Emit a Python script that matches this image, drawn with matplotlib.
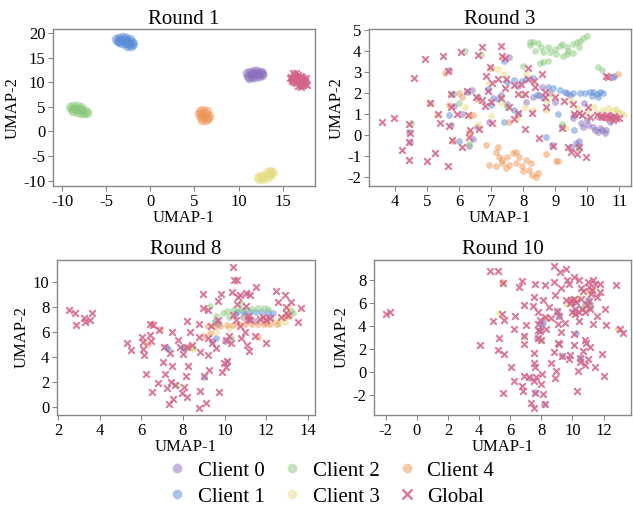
import matplotlib
matplotlib.use('Agg')
import matplotlib.pyplot as plt
from matplotlib.ticker import MultipleLocator
from matplotlib.lines import Line2D

plt.rcParams['font.family'] = 'serif'
plt.rcParams['font.serif'] = ['Liberation Serif', 'DejaVu Serif']
plt.rcParams['axes.unicode_minus'] = False

labels = ['Client 0', 'Client 1', 'Client 2', 'Client 3', 'Client 4']
colors = ['#8a6fbb', '#5a8bd6', '#88c97a', '#e6dc82', '#ee9455']
global_color = '#d2648a'

# ---- Round 1 (tight blobs per client, global far right) ----
r1_c0 = [(10.9, 11.9), (11.3, 12.2), (11.7, 12.4), (12.1, 12.4), (12.5, 12.2), (11.1, 11.4),
         (11.5, 11.7), (11.9, 11.8), (12.3, 11.7), (12.7, 11.6), (11.5, 11.1), (11.9, 11.2),
         (12.3, 11.3), (11.2, 11.0), (12.6, 12.0)]
r1_c1 = [(-3.9, 18.9), (-3.5, 19.1), (-3.1, 19.2), (-2.7, 19.1), (-3.7, 18.5), (-3.3, 18.6),
         (-2.9, 18.6), (-2.5, 18.5), (-2.1, 18.3), (-3.2, 18.0), (-2.8, 18.0), (-2.4, 17.9),
         (-2.0, 17.8), (-2.6, 17.5), (-2.2, 17.4), (-3.5, 18.3), (-2.3, 18.9)]
r1_c2 = [(-9.1, 4.9), (-8.7, 5.1), (-8.3, 5.2), (-7.9, 5.0), (-8.9, 4.5), (-8.5, 4.6),
         (-8.1, 4.5), (-7.7, 4.3), (-7.3, 4.1), (-8.3, 4.0), (-7.9, 3.8), (-7.5, 3.7),
         (-7.2, 3.7), (-8.7, 4.2)]
r1_c3 = [(12.3, -9.6), (12.7, -9.7), (13.1, -9.4), (12.5, -9.0), (12.9, -9.0), (13.3, -8.8),
         (13.7, -8.5), (13.2, -8.2), (13.6, -8.0), (13.9, -8.2), (12.2, -9.3), (13.5, -9.1)]
r1_c4 = [(5.6, 4.2), (6.0, 4.3), (6.4, 4.1), (5.5, 3.6), (5.9, 3.6), (6.3, 3.5), (6.6, 3.2),
         (5.7, 2.9), (6.1, 2.9), (6.5, 2.7), (5.9, 2.4), (6.3, 2.4)]
r1_g = [(15.9, 11.2), (16.3, 11.5), (16.7, 11.6), (17.1, 11.4), (16.0, 10.6), (16.4, 10.8),
        (16.8, 10.9), (17.2, 10.7), (17.5, 10.3), (16.3, 10.1), (16.7, 10.0), (17.1, 9.9),
        (17.5, 9.6), (16.9, 9.5), (17.3, 9.4), (16.1, 11.9), (16.5, 12.0), (15.8, 10.9),
        (16.2, 10.4), (17.6, 10.9), (16.6, 10.5), (17.0, 10.4), (16.5, 11.2), (16.9, 11.2),
        (17.3, 11.0), (16.1, 11.0), (16.5, 9.8), (16.9, 10.2), (17.3, 10.2), (16.0, 10.2),
        (17.7, 9.5), (16.7, 9.3), (17.1, 9.1)]

# ---- Round 3 ----
r3_c0 = [(10.24, 0.23), (10.35, 0.12), (10.45, 0.22), (10.55, 0.1), (10.19, 0.38), (10.03, 0.46),
         (9.88, 0.38), (10.0, 0.7), (9.56, 0.78), (9.6, 0.94), (10.4, 0.3), (10.6, 0.2),
         (9.65, -0.4), (9.75, -0.3), (9.5, -0.6), (8.9, -0.5), (8.85, 2.0), (9.45, 1.9),
         (9.0, 1.55), (8.5, 1.9), (8.1, 1.55), (7.85, 1.0), (7.5, 1.45), (7.05, 1.75),
         (6.95, 0.6), (6.45, -0.2), (6.4, 2.15), (6.55, 0.35), (6.1, 1.0), (5.85, 1.35),
         (5.75, 0.45), (7.55, 3.7), (7.3, 1.9), (8.6, 2.3), (9.2, 0.35), (9.9, 1.5),
         (10.7, 0.95), (10.8, 2.75), (6.3, -0.55), (5.7, 3.1), (4.45, 0.12), (4.47, -0.35),
         (7.85, 2.35), (8.3, 1.8), (9.8, 0.55), (10.7, 0.6)]
r3_c1 = [(8.78, 2.29), (8.94, 2.22), (9.15, 2.14), (9.36, 1.98), (9.56, 1.98), (9.77, 1.98),
         (9.93, 2.01), (10.08, 2.05), (10.19, 2.05), (10.29, 1.94), (10.14, 1.85), (10.34, 1.82),
         (10.4, 2.05), (8.42, 1.9), (8.63, 1.74), (9.3, 2.05), (10.5, 2.0), (7.4, 3.5),
         (7.5, 2.5), (7.7, 2.6), (7.95, 2.55), (8.1, 2.65), (8.3, 2.7), (7.0, 1.4), (6.9, 2.2),
         (6.6, 1.8), (7.4, 0.6), (6.25, 2.05), (5.8, 1.95), (5.7, 0.95), (6.0, -0.3), (7.7, 1.2),
         (9.1, 1.0), (9.6, 0.2), (10.85, 2.8), (7.2, 1.7), (8.7, -0.1), (9.7, -0.55)]
r3_c2 = [(8.31, 4.41), (8.47, 4.38), (8.57, 4.17), (8.37, 4.01), (8.63, 3.96), (8.78, 4.17),
         (8.83, 3.94), (8.99, 4.09), (9.04, 3.85), (9.15, 4.25), (9.2, 4.33), (9.36, 4.17),
         (9.41, 4.01), (9.56, 4.33), (9.67, 4.41), (9.77, 4.49), (9.88, 4.6), (9.98, 4.7),
         (9.56, 3.9), (9.37, 3.85), (9.25, 3.77), (8.63, 3.46), (8.52, 3.41), (8.78, 3.5),
         (10.34, 3.25), (10.45, 3.1), (8.21, 4.28), (8.21, 4.44), (9.75, 4.2), (8.0, 3.3),
         (6.2, 4.0), (5.75, 1.95), (6.3, -0.45), (7.5, 1.3), (9.75, -0.7), (6.0, 1.5),
         (4.5, 0.55), (8.0, 1.9), (9.2, 0.5), (6.7, 3.8)]
r3_c3 = [(10.66, 1.26), (10.81, 1.18), (10.97, 1.1), (11.07, 1.02), (10.5, 1.18), (10.29, 1.02),
         (9.98, 1.1), (9.67, 1.26), (11.15, 0.95), (10.9, 1.25), (8.9, 1.9), (8.75, 1.6),
         (8.3, 1.2), (8.05, 1.3), (7.4, 2.9), (7.2, 3.15), (8.1, 2.9), (7.3, 1.5), (6.95, 2.45),
         (6.6, 0.5), (6.2, 1.3), (5.3, 0.95), (6.3, 0.9), (7.8, 0.8), (9.35, 0.3), (9.5, 1.6),
         (7.0, 0.9), (8.7, 1.2), (10.2, 1.3)]
r3_c4 = [(7.15, -0.81), (7.25, -1.05), (7.35, -1.2), (7.51, -1.05), (7.67, -0.89), (7.88, -1.05),
         (7.77, -1.36), (6.94, -1.44), (7.15, -1.52), (7.35, -1.36), (7.56, -1.44), (7.98, -1.52),
         (8.19, -1.68), (8.29, -1.92), (8.4, -2.0), (8.24, -1.36), (8.08, -1.2), (7.77, -0.81),
         (7.23, -0.57), (7.45, -1.6), (8.45, -1.85), (8.0, -1.75), (6.1, 1.8), (5.55, 2.95),
         (6.55, 1.7), (7.0, 3.2), (5.1, 1.5), (5.8, -0.3), (6.3, 0.15), (8.71, -0.94),
         (9.02, -1.28), (9.1, -1.25), (6.83, -0.49), (5.7, 1.4), (7.55, 0.6), (6.0, 2.0),
         (10.95, 2.9), (6.45, 0.95)]
r3_g = [(3.6, 0.6), (3.97, 0.8), (4.45, 0.5), (4.47, 0.1), (4.44, -0.33), (4.23, -0.71),
        (4.44, -1.19), (4.59, 2.71), (4.93, 3.6), (5.09, 1.53), (5.01, -1.24), (5.25, -0.89),
        (5.5, 3.76), (5.34, 0.99), (5.4, 0.58), (5.66, 3.03), (5.67, -1.48), (5.74, 1.31),
        (5.69, 0.43), (5.74, 1.93), (6.05, 3.93), (5.93, 0.97), (5.79, -0.25), (6.1, -0.57),
        (6.28, 0.94), (6.26, 2.1), (6.31, -0.09), (6.34, 0.2), (6.61, 0.26), (6.54, 1.79),
        (6.73, 4.2), (6.6, 3.8), (6.73, 1.66), (6.82, 1.37), (6.85, 2.8), (6.91, 2.1),
        (6.96, 3.25), (7.04, 2.45), (7.01, 1.58), (7.02, 0.54), (7.21, 2.65), (7.3, 4.24),
        (7.31, 1.74), (7.35, 3.76), (7.42, 3.65), (7.44, 2.21), (7.48, 2.68), (7.56, 1.31),
        (7.73, 0.74), (7.73, 2.39), (7.83, 1.95), (7.94, 2.42), (8.06, 1.95), (8.06, 0.26),
        (7.85, 1.02), (8.14, 2.65), (8.16, 3.17), (8.34, 2.55), (8.29, 1.05), (8.38, 2.26),
        (8.48, -0.14), (8.6, 2.9), (8.67, 2.06), (8.69, 1.79), (8.72, 1.31), (8.92, -0.54),
        (9.0, 1.79), (9.21, 0.31), (9.28, 1.63), (9.39, -0.57), (9.49, -0.81), (9.56, 1.47),
        (9.67, -0.92), (9.73, -0.57), (9.96, -1.05), (9.6, 0.99), (9.75, 1.05), (9.85, 0.94),
        (10.01, 1.34), (10.08, 0.86), (10.3, 0.94), (10.46, 0.86), (10.56, 0.86), (10.69, 0.78),
        (10.79, 0.7), (10.9, 0.78), (10.58, 2.8), (10.65, 2.75), (10.4, 0.9), (10.62, 0.95),
        (10.75, 0.85), (10.85, 0.9), (11.0, 0.82)]

# ---- Round 8 ----
r8_c0 = [(10.9, 7.2), (11.2, 7.0), (11.5, 6.9), (12.0, 7.0), (9.7, 6.6), (9.4, 5.3), (10.5, 7.4),
         (7.2, 4.8), (8.1, 4.7), (9.6, 6.9), (11.1, 9.0), (12.2, 7.2), (10.0, 5.3)]
r8_c1 = [(10.6, 7.6), (10.9, 7.65), (11.2, 7.6), (11.5, 7.6), (11.8, 7.6), (12.1, 7.6),
         (12.3, 7.55), (9.6, 5.5), (8.0, 4.7), (7.3, 4.6), (10.1, 3.6), (9.0, 2.4), (11.0, 7.4)]
r8_c2 = [(9.3, 8.1), (9.6, 7.3), (9.9, 7.5), (10.1, 7.7), (10.4, 7.75), (10.7, 7.8), (11.0, 7.85),
         (11.3, 7.85), (11.6, 7.9), (11.9, 7.9), (12.1, 7.8), (10.8, 8.3), (13.3, 7.5), (9.5, 6.8),
         (10.3, 5.5), (7.7, 1.7), (8.5, 4.8), (13.2, 7.7), (10.2, 7.2)]
r8_c3 = [(12.4, 6.9), (12.7, 7.1), (12.9, 6.8), (11.8, 7.1), (10.2, 6.3), (9.6, 6.0), (13.1, 7.9),
         (11.0, 7.2), (8.5, 4.6), (12.6, 6.7)]
r8_c4 = [(9.2, 6.5), (9.5, 6.45), (9.8, 6.5), (10.1, 6.55), (10.4, 6.55), (10.7, 6.6), (11.0, 6.6),
         (11.3, 6.65), (11.6, 6.6), (11.9, 6.6), (12.2, 6.6), (12.5, 6.65), (12.9, 7.2), (13.1, 7.3),
         (9.0, 5.7), (8.2, 4.8), (6.5, 6.6), (6.9, 6.2), (11.6, 5.6), (9.3, 5.9), (6.3, 5.0),
         (12.0, 6.7)]
r8_g = [(2.53, 7.73), (2.8, 7.52), (2.85, 6.53), (3.25, 7.15), (3.3, 6.8), (3.52, 6.93),
        (3.65, 7.52), (5.33, 5.12), (5.49, 4.53), (6.05, 5.6), (6.08, 5.2), (6.08, 4.61),
        (6.13, 4.13), (6.24, 2.61), (6.4, 6.61), (6.43, 5.73), (6.45, 5.25), (6.56, 6.53),
        (6.53, 1.15), (6.8, 1.92), (6.85, 6.19), (7.04, 3.6), (7.07, 4.8), (7.15, 2.59),
        (7.23, 1.47), (7.33, 0.19), (7.36, 4.32), (7.44, 2.0), (7.47, 3.25), (7.49, 6.0),
        (7.54, 0.59), (7.6, 1.73), (7.76, 5.33), (7.84, 4.8), (7.95, 1.07), (8.0, 4.21),
        (8.05, 1.55), (8.13, 2.48), (8.19, 0.75), (8.24, 3.25), (8.21, 4.75), (8.21, 6.88),
        (8.32, 6.0), (8.45, 4.93), (8.75, 6.61), (8.77, 5.55), (8.8, 4.35), (8.8, 1.28),
        (8.75, -0.13), (8.96, 9.07), (8.96, 7.95), (9.01, 2.48), (9.09, 0.32), (9.2, 7.79),
        (9.2, 4.13), (9.25, 2.93), (9.2, 5.47), (9.36, 6.45), (9.41, 5.07), (9.6, 4.67),
        (9.68, 8.48), (9.68, 6.93), (9.73, 1.2), (9.84, 9.07), (9.89, 2.8), (9.95, 3.47),
        (10.08, 3.15), (10.13, 3.68), (10.08, 5.33), (10.21, 5.65), (10.32, 5.12), (10.35, 9.2),
        (10.4, 7.33), (10.43, 10.19), (10.4, 11.2), (10.53, 6.99), (10.59, 8.27), (10.64, 8.8),
        (10.72, 8.93), (10.75, 6.45), (10.8, 5.47), (10.96, 6.0), (11.01, 8.05), (11.04, 9.12),
        (11.07, 4.93), (11.12, 7.25), (11.17, 4.48), (11.2, 8.99), (11.23, 6.93), (11.52, 9.6),
        (11.44, 5.65), (11.68, 7.07), (11.84, 7.2), (12.0, 6.93), (12.16, 7.15), (12.0, 5.12),
        (12.45, 9.25), (12.56, 8.4), (12.69, 7.2), (12.88, 8.93), (12.93, 8.0), (12.96, 7.52),
        (13.04, 7.33), (13.2, 8.4), (13.5, 6.8), (13.68, 7.92), (10.6, 10.2), (11.1, 7.0)]

# ---- Round 10 ----
r10_c0 = [(8.0, 4.15), (9.3, 1.4), (7.3, -0.5), (10.8, 5.9), (11.1, 5.6), (9.0, 5.3), (7.7, 2.9),
          (10.1, 6.1), (8.2, -2.8)]
r10_c1 = [(8.1, 4.25), (7.6, -1.75), (9.15, 4.85), (10.1, 5.3), (10.2, 3.4), (7.9, 3.6),
          (10.5, 1.2), (11.0, 6.2)]
r10_c2 = [(10.6, 5.5), (8.0, 2.8), (11.1, 6.0), (9.9, 6.3), (6.9, 3.1)]
r10_c3 = [(11.0, 6.9), (10.9, 5.7), (5.5, 7.7), (5.3, 5.1), (11.3, 7.1), (9.6, 5.9), (10.4, 6.4)]
r10_c4 = [(11.2, 7.0), (9.9, 6.0), (5.5, 7.8), (12.9, 3.7), (10.2, 5.1), (8.3, 4.7)]
r10_g = [(-1.96, 5.0), (-1.74, 5.2), (4.03, 2.32), (4.67, 8.72), (4.88, 4.43), (5.2, 8.72),
         (5.26, 2.9), (5.22, 1.89), (5.48, 5.0), (5.52, 7.71), (5.59, 4.54), (5.63, 1.54),
         (5.52, -1.86), (6.06, 0.39), (6.23, 3.68), (6.29, 4.83), (6.23, -0.76), (6.55, 7.37),
         (6.76, 7.88), (6.87, 5.78), (6.91, 3.1), (6.87, 2.41), (6.76, -1.22), (6.8, -1.63),
         (6.87, -0.36), (7.04, 4.05), (7.19, -0.47), (7.36, -2.66), (7.44, 5.69), (7.51, 6.5),
         (7.51, -0.76), (7.55, -3.15), (7.55, 1.6), (7.55, 0.8), (7.62, 0.45), (7.62, -1.86),
         (7.62, 7.65), (7.68, -0.42), (7.79, 2.9), (7.79, 4.14), (7.79, 3.62), (7.79, 5.2),
         (7.89, 4.48), (7.94, 3.56), (8.0, 2.81), (8.0, -1.05), (8.04, -0.18), (8.09, -1.91),
         (8.1, 6.27), (8.21, -2.78), (8.26, 4.72), (8.26, 7.51), (8.3, 3.76), (8.47, 5.64),
         (8.6, 4.63), (8.64, 0.8), (8.79, 9.15), (8.79, 1.75), (8.79, 7.8), (8.85, -0.56),
         (8.9, 6.7), (8.94, 0.1), (9.0, 5.29), (9.07, 2.47), (9.07, 4.14), (9.11, 4.83),
         (9.15, 2.41), (9.22, 8.66), (9.28, 7.31), (9.26, 3.48), (9.32, 1.37), (9.49, 4.25),
         (9.58, 8.95), (9.65, 7.94), (9.58, 6.27), (9.79, 7.6), (9.81, 1.08), (9.86, 1.46),
         (9.86, 5.98), (9.92, 6.21), (9.97, 5.2), (10.07, 8.23), (10.07, 6.36), (10.07, 2.32),
         (10.07, 3.33), (10.14, 5.49), (10.18, 5.06), (10.22, 6.07), (10.35, 0.1), (10.29, -1.63),
         (10.39, 7.94), (10.39, 5.2), (10.44, 4.43), (10.5, 1.17), (10.5, 0.88), (10.54, 7.31),
         (10.54, 6.36), (10.61, 5.41), (10.67, 6.99), (10.71, 1.83), (10.78, 0.59), (10.78, 2.76),
         (10.82, 5.2), (10.86, 2.47), (10.93, 5.78), (10.97, 1.08), (11.03, 7.8), (11.07, 7.37),
         (11.07, 6.16), (11.14, 5.49), (11.16, 2.12), (11.2, 6.79), (11.25, 7.08), (11.29, 4.14),
         (11.35, 8.0), (11.42, 0.39), (11.46, 7.65), (11.57, 6.5), (11.57, 4.83), (11.78, 7.6),
         (11.78, 6.93), (11.89, 1.54), (12.06, -0.36), (12.1, 5.41), (12.17, 4.05), (12.79, 7.51),
         (13.06, 3.76), (13.28, 3.39)]

rounds = [
    ('Round 1', [r1_c0, r1_c1, r1_c2, r1_c3, r1_c4], r1_g),
    ('Round 3', [r3_c0, r3_c1, r3_c2, r3_c3, r3_c4], r3_g),
    ('Round 8', [r8_c0, r8_c1, r8_c2, r8_c3, r8_c4], r8_g),
    ('Round 10', [r10_c0, r10_c1, r10_c2, r10_c3, r10_c4], r10_g),
]

# axes boxes (left, bottom, width, height) in figure fraction
boxes = [(0.084, 0.634, 0.413, 0.308), (0.583, 0.634, 0.414, 0.308),
         (0.090, 0.183, 0.407, 0.306), (0.591, 0.183, 0.406, 0.306)]
limits = [((-11.0, 18.6), (-11.1, 20.8)), ((3.19, 11.37), (-2.45, 5.03)),
          ((1.95, 14.32), (-0.67, 11.8)), ((-2.75, 13.77), (-3.73, 9.73))]
steps = [(5, 5), (1, 1), (2, 2), (2, 2)]

fig = plt.figure(figsize=(6.33, 5.08), dpi=100)

for (title, clients, glob), box, (xl, yl), (sx, sy) in zip(rounds, boxes, limits, steps):
    ax = fig.add_axes(box)
    size = 48 if title == 'Round 1' else 24
    for pts, col in zip(clients, colors):
        ax.scatter([p[0] for p in pts], [p[1] for p in pts], s=size, color=col,
                   alpha=0.5, linewidths=0)
    ax.scatter([p[0] for p in glob], [p[1] for p in glob], s=22, marker='x',
               color=global_color, alpha=0.85, linewidths=1.5)
    ax.set_xlim(*xl)
    ax.set_ylim(*yl)
    ax.xaxis.set_major_locator(MultipleLocator(sx))
    ax.yaxis.set_major_locator(MultipleLocator(sy))
    ax.set_title(title, fontsize=15, pad=4)
    ax.set_xlabel('UMAP-1', fontsize=12, labelpad=0)
    ax.set_ylabel('UMAP-2', fontsize=12, labelpad=2)
    ax.tick_params(labelsize=12, length=3.5, width=0.8, color='#888888', pad=2)
    for sp in ax.spines.values():
        sp.set_color('#888888')
        sp.set_linewidth(1.0)

handles = [Line2D([], [], marker='o', linestyle='', color=c, alpha=0.5, markersize=7,
                  markeredgewidth=0) for c in colors]
handles.append(Line2D([], [], marker='x', linestyle='', color=global_color, alpha=0.85,
                      markersize=7, markeredgewidth=1.8))
names = labels + ['Global']
fig.legend(handles, names, ncol=3, loc='lower center', bbox_to_anchor=(0.522, -0.026),
           frameon=False, fontsize=15, handlelength=1.0, handletextpad=0.5,
           columnspacing=0.8, labelspacing=0.3, borderpad=0.2)

fig.savefig('out.png', dpi=100)
